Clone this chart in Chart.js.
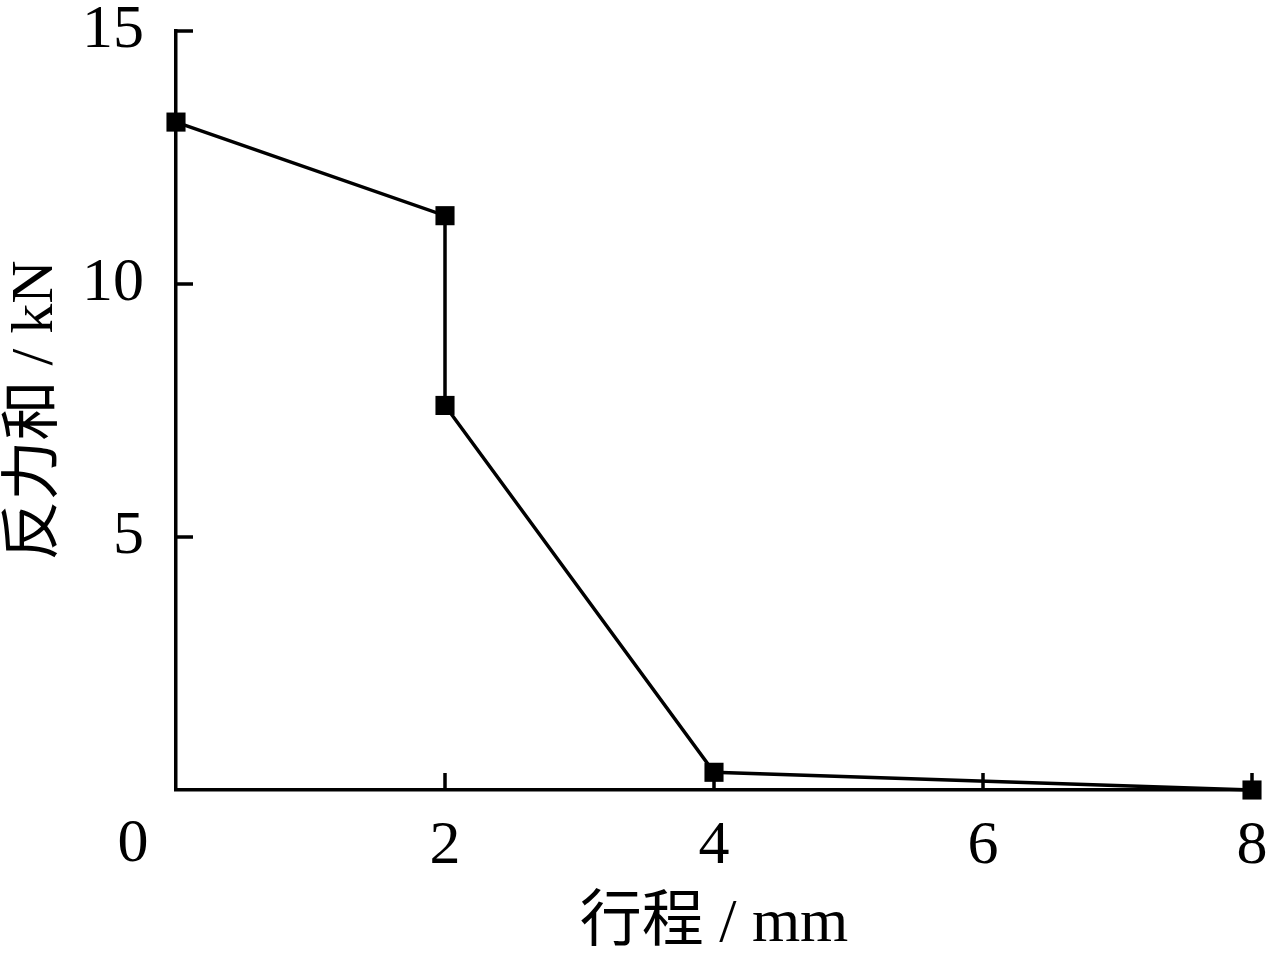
<!DOCTYPE html>
<html>
<head>
<meta charset="utf-8">
<script src="https://cdn.jsdelivr.net/npm/chart.js@4.4.0/dist/chart.umd.min.js"></script>
<style>
  html, body { margin: 0; padding: 0; background: #fff; }
  #wrap { width: 1284px; height: 964px; }
</style>
</head>
<body>
<div id="wrap"><canvas id="chart" width="1284" height="964"></canvas></div>
<script>
// stroke (mm) vs. total reaction force (kN)
const strokeMm = [0, 2, 2, 4, 8];
const reactionKN = [13.2, 11.35, 7.6, 0.35, 0];
const xTicks = [0, 2, 4, 6, 8];
const yTicks = [0, 5, 10, 15];
const xTitle = "行程 / mm";
const yTitle = "反力和 / kN";

const FONT = "'Liberation Serif', 'Times New Roman', 'Noto Sans CJK SC', serif";

const points = strokeMm.map((x, i) => ({ x: x, y: reactionKN[i] }));

// ticks drawn inward, plus the shared origin "0" left of the y axis
const inwardTicks = {
  id: "inwardTicks",
  beforeDatasetsDraw(chart) {
    const { ctx, chartArea, scales } = chart;
    const len = 17;
    ctx.save();
    ctx.strokeStyle = "#000";
    ctx.lineWidth = 3.5;
    ctx.beginPath();
    xTicks.forEach((v) => {
      if (v === 0) return;
      const px = scales.x.getPixelForValue(v);
      ctx.moveTo(px, chartArea.bottom);
      ctx.lineTo(px, chartArea.bottom - len);
    });
    yTicks.forEach((v) => {
      if (v === 0) return;
      const py = scales.y.getPixelForValue(v);
      ctx.moveTo(chartArea.left, py);
      ctx.lineTo(chartArea.left + len, py);
    });
    ctx.stroke();
    ctx.restore();
  },
  afterDraw(chart) {
    const { ctx, chartArea, scales } = chart;
    ctx.save();
    ctx.fillStyle = "#000";
    ctx.font = "62px " + FONT;
    ctx.textAlign = "center";
    ctx.textBaseline = "middle";
    ctx.fillText("0", scales.x.getPixelForValue(0) - 43, chartArea.bottom + 55);
    ctx.restore();
  }
};

new Chart(document.getElementById("chart"), {
  type: "scatter",
  data: {
    datasets: [{
      data: points,
      showLine: true,
      borderColor: "#000",
      borderWidth: 3.5,
      pointStyle: "rect",
      pointRadius: 13.5,
      pointHoverRadius: 13.5,
      pointBackgroundColor: "#000",
      pointBorderColor: "#000",
      pointBorderWidth: 0,
      clip: false
    }]
  },
  options: {
    responsive: false,
    animation: false,
    layout: { padding: { top: 31, right: 32, left: 0, bottom: 0 } },
    plugins: { legend: { display: false }, tooltip: { enabled: false } },
    scales: {
      x: {
        type: "linear",
        min: 0,
        max: 8,
        afterFit(scale) { scale.height = 174; scale.paddingLeft = 0; scale.paddingRight = 0; },
        afterBuildTicks(scale) { scale.ticks = xTicks.map((v) => ({ value: v })); },
        grid: { display: false, drawTicks: false },
        border: { display: true, color: "#000", width: 3.5 },
        ticks: {
          padding: 20,
          color: "#000",
          font: { family: FONT, size: 62 },
          callback: (v) => (v === 0 ? "" : String(v))
        },
        title: {
          display: true,
          text: xTitle,
          color: "#000",
          font: { family: FONT, size: 62 },
          padding: { top: 0, bottom: 2 }
        }
      },
      y: {
        type: "linear",
        min: 0,
        max: 15,
        afterFit(scale) { scale.width = 176; scale.paddingTop = 0; scale.paddingBottom = 0; },
        afterBuildTicks(scale) { scale.ticks = yTicks.map((v) => ({ value: v })); },
        grid: { display: false, drawTicks: false },
        border: { display: true, color: "#000", width: 3.5 },
        ticks: {
          padding: 32,
          color: "#000",
          font: { family: FONT, size: 62 },
          callback: (v) => (v === 0 ? "" : String(v))
        },
        title: {
          display: true,
          text: yTitle,
          color: "#000",
          font: { family: FONT, size: 60 },
          padding: { top: 0, bottom: 0 }
        }
      }
    }
  },
  plugins: [inwardTicks]
});
</script>
</body>
</html>
